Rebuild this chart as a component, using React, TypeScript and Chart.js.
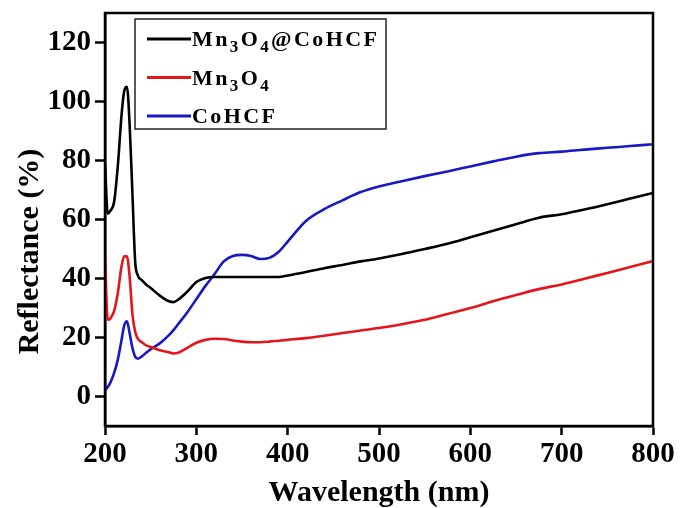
import { useEffect, useRef } from 'react';
import { Chart, registerables } from 'chart.js';

Chart.register(...registerables);

const wavelengths = [
  200, 203, 206, 210, 214, 218, 221, 224, 227, 230, 233, 236, 240, 245, 250, 260, 270, 275, 280, 290,
  300, 310, 320, 330, 340, 350, 360, 370, 380, 390, 400, 420, 440, 460, 480, 500, 525, 550, 575, 600,
  625, 650, 675, 700, 725, 750, 775, 800,
];

const compositeReflectance = [
  79, 62, 63, 66, 78, 95, 103.5, 105, 92, 69, 46, 41, 39.5, 38, 36.8, 34.2, 32.3, 32, 32.8, 35.5,
  38.8, 40.2, 40.5, 40.5, 40.5, 40.5, 40.5, 40.5, 40.5, 40.5, 41, 42.2, 43.5, 44.6, 45.8, 46.8, 48.3, 50, 51.8, 54,
  56.2, 58.4, 60.6, 61.8, 63.4, 65.2, 67.1, 69,
];

const mn3o4Reflectance = [
  47.5, 26, 26.5, 29, 35, 44, 47.5, 47.5, 40.5, 28, 22, 19.5, 18.5, 17.3, 16.8, 15.7, 15, 14.6, 14.8, 16.5,
  18.2, 19.2, 19.6, 19.5, 19, 18.6, 18.4, 18.4, 18.6, 18.9, 19.2, 19.8, 20.6, 21.5, 22.4, 23.2, 24.5, 26, 28, 30,
  32.3, 34.4, 36.4, 38, 39.9, 41.9, 43.9, 45.9,
];

const cohcfReflectance = [
  2, 3.2, 4.8, 8, 12.5, 19, 24, 25.5, 21.4, 16.5, 13.5, 12.8, 13.5, 14.8, 16, 18, 20.8, 22.5, 24.5, 28.5,
  33, 37.5, 41.5, 45.8, 47.6, 48, 47.6, 46.6, 47, 49, 52.5, 59.5, 63.5, 66.5, 69.3, 71.2, 73, 74.7, 76.3, 78,
  79.7, 81.3, 82.5, 83, 83.7, 84.3, 84.9, 85.5,
];

const xTicks = [200, 300, 400, 500, 600, 700, 800];
const yTicks = [0, 20, 40, 60, 80, 100, 120];

const seriesNames = ['Mn\u2083O\u2084@CoHCF', 'Mn\u2083O\u2084', 'CoHCF'];
// legend text split into [text, isSubscript] parts
const legendParts: [string, boolean][][] = [
  [['Mn', false], ['3', true], ['O', false], ['4', true], ['@CoHCF', false]],
  [['Mn', false], ['3', true], ['O', false], ['4', true]],
  [['CoHCF', false]],
];
const seriesColors = ['#000000', '#e3161c', '#1818c4'];

const xAxisTitle = 'Wavelength (nm)';
const yAxisTitle = 'Reflectance (%)';

const FONT = '"Liberation Serif", "Times New Roman", serif';

const framePlugin = {
  id: 'frame',
  afterDatasetsDraw(chart: any) {
    const { ctx, chartArea } = chart;
    const { left, top, right, bottom } = chartArea;
    ctx.save();
    ctx.strokeStyle = '#000';
    ctx.lineWidth = 2.5;
    ctx.strokeRect(left, top, right - left, bottom - top);
    ctx.restore();
  },
};

const yTitlePlugin = {
  id: 'yTitle',
  afterDraw(chart: any) {
    const { ctx, chartArea } = chart;
    const cy = (chartArea.top + chartArea.bottom) / 2 + 32;
    ctx.save();
    ctx.translate(30, cy);
    ctx.rotate(-Math.PI / 2);
    ctx.font = `bold 30px ${FONT}`;
    ctx.fillStyle = '#000';
    ctx.textAlign = 'center';
    ctx.textBaseline = 'middle';
    ctx.fillText(yAxisTitle, 0, 0);
    ctx.restore();
  },
};

const legendPlugin = {
  id: 'customLegend',
  afterDraw(chart: any) {
    const { ctx, chartArea } = chart;
    const boxLeft = chartArea.left + 30;
    const boxTop = chartArea.top + 6;
    const boxW = 251;
    const boxH = 110;
    ctx.save();
    ctx.fillStyle = '#fff';
    ctx.fillRect(boxLeft, boxTop, boxW, boxH);
    ctx.strokeStyle = '#222';
    ctx.lineWidth = 1.5;
    ctx.strokeRect(boxLeft, boxTop, boxW, boxH);
    chart.data.datasets.forEach((ds: any, i: number) => {
      const rowY = boxTop + 20 + i * 38.5;
      ctx.strokeStyle = ds.borderColor;
      ctx.lineWidth = 3;
      ctx.beginPath();
      ctx.moveTo(boxLeft + 12, rowY);
      ctx.lineTo(boxLeft + 56, rowY);
      ctx.stroke();
      let x = boxLeft + 57;
      const baseline = rowY + 7;
      ctx.fillStyle = '#000';
      ctx.textBaseline = 'alphabetic';
      ctx.textAlign = 'left';
      for (const [txt, sub] of legendParts[i]) {
        ctx.font = sub ? `bold 17px ${FONT}` : `bold 22px ${FONT}`;
        (ctx as any).letterSpacing = '2.4px';
        ctx.fillText(txt, x, sub ? baseline + 6 : baseline);
        x += ctx.measureText(txt).width;
      }
    });
    ctx.restore();
  },
};

export default function App() {
  const canvasRef = useRef<HTMLCanvasElement | null>(null);

  useEffect(() => {
    const canvas = canvasRef.current;
    if (!canvas) return;
    const series = [compositeReflectance, mn3o4Reflectance, cohcfReflectance];
    const chart = new Chart(canvas, {
      type: 'line',
      data: {
        datasets: series.map((vals, i) => ({
          label: seriesNames[i],
          data: wavelengths.map((w, j) => ({ x: w, y: vals[j] })),
          borderColor: seriesColors[i],
          backgroundColor: seriesColors[i],
          borderWidth: 2.6,
          pointRadius: 0,
          cubicInterpolationMode: 'monotone' as const,
          fill: false,
        })),
      },
      options: {
        responsive: false,
        animation: false,
        devicePixelRatio: 1,
        layout: { padding: { top: 13, right: 28, left: 0, bottom: 0 } },
        plugins: {
          legend: { display: false },
          tooltip: { enabled: false },
        },
        scales: {
          x: {
            type: 'linear',
            min: 200,
            max: 800,
            afterBuildTicks: (s: any) => {
              s.ticks = xTicks.map((v) => ({ value: v }));
            },
            afterFit: (s: any) => {
              s.height = 82;
              s.paddingLeft = 0;
              s.paddingRight = 0;
            },
            ticks: {
              font: { family: FONT, size: 29, weight: 'bold' },
              color: '#000',
              padding: 2,
              maxRotation: 0,
              autoSkip: false,
            },
            grid: {
              drawOnChartArea: false,
              drawTicks: true,
              tickLength: 9,
              tickColor: '#000',
              tickWidth: 2.5,
            },
            border: { display: true, color: '#000', width: 2.5 },
            title: {
              display: true,
              text: xAxisTitle,
              color: '#000',
              font: { family: FONT, size: 30, weight: 'bold', lineHeight: 1 },
              padding: { top: 0, bottom: 0 },
            },
          },
          y: {
            type: 'linear',
            min: -10,
            max: 130,
            afterBuildTicks: (s: any) => {
              s.ticks = yTicks.map((v) => ({ value: v }));
            },
            afterFit: (s: any) => {
              s.width = 105;
              s.paddingTop = 0;
              s.paddingBottom = 0;
            },
            ticks: {
              font: { family: FONT, size: 29, weight: 'bold' },
              color: '#000',
              padding: 4,
            },
            grid: {
              drawOnChartArea: false,
              drawTicks: true,
              tickLength: 10,
              tickColor: '#000',
              tickWidth: 2.5,
            },
            border: { display: true, color: '#000', width: 2.5 },
          },
        },
      },
      plugins: [framePlugin, yTitlePlugin, legendPlugin],
    });
    return () => chart.destroy();
  }, []);

  return (
    <div style={{ position: 'fixed', left: 0, top: 0, width: 681, height: 508, background: '#fff' }}>
      <canvas ref={canvasRef} width={681} height={508} />
    </div>
  );
}
